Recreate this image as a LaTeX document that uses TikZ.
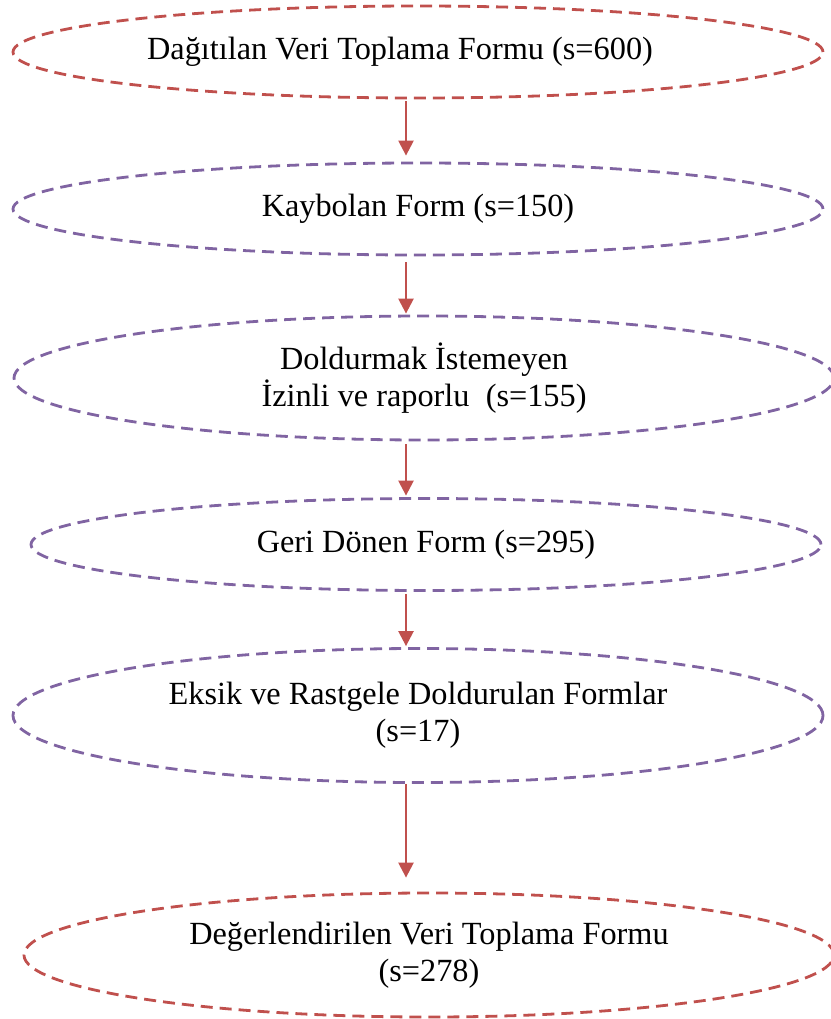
\documentclass[tikz,border=0pt]{standalone}
\usepackage{fontspec}
\setmainfont{Liberation Serif}
\usetikzlibrary{shapes.geometric, arrows.meta}

\definecolor{formred}{HTML}{C0504D}
\definecolor{formpurple}{HTML}{8064A2}

\tikzset{
    stage/.style={ellipse, dash pattern=on 12pt off 7pt, line width=2.8pt,
        inner sep=0pt, align=center, font=\fontsize{32.3}{37}\selectfont},
    redstage/.style={stage, draw=formred},
    purplestage/.style={stage, draw=formpurple},
    flow/.style={draw=formred, line width=2.4pt, -{Triangle[width=15pt,length=15pt]}}
}

\begin{document}
\begin{tikzpicture}[x=1pt, y=-1pt]
            \useasboundingbox (0,0) rectangle (830,1019);
            \node [redstage, minimum width=810pt, minimum height=92pt] (dagitilan) at (418,52)
                {Dağıtılan Veri Toplama Formu (s=600)\hspace*{36pt}};
            \node [purplestage, minimum width=810pt, minimum height=92pt] (kaybolan) at (418,209)
                {Kaybolan Form (s=150)};
            \node [purplestage, minimum width=820pt, minimum height=124pt] (doldurmak) at (424,378)
                {Doldurmak İstemeyen\\İzinli ve raporlu\ \ (s=155)};
            \node [purplestage, minimum width=790pt, minimum height=92pt] (geri) at (426,544.5)
                {Geri Dönen Form (s=295)};
            \node [purplestage, minimum width=810pt, minimum height=134pt] (eksik) at (418,715.5)
                {Eksik ve Rastgele Doldurulan Formlar\\(s=17)};
            \node [redstage, minimum width=810pt, minimum height=124pt] (degerlendirilen) at (429,955)
                {Değerlendirilen Veri Toplama Formu\\(s=278)};
            \coordinate (axis) at (406,0);
            \foreach \From/\To/\Start/\End in {dagitilan/kaybolan/2/6, kaybolan/doldurmak/6/1,
                    doldurmak/geri/3/1.5, geri/eksik/2/1, eksik/degerlendirilen/0/14}{
                \draw [flow, shorten <=\Start pt, shorten >=\End pt]
                    (\From.south -| axis) -- (\To.north -| axis);
            }
        \end{tikzpicture}
\end{document}
